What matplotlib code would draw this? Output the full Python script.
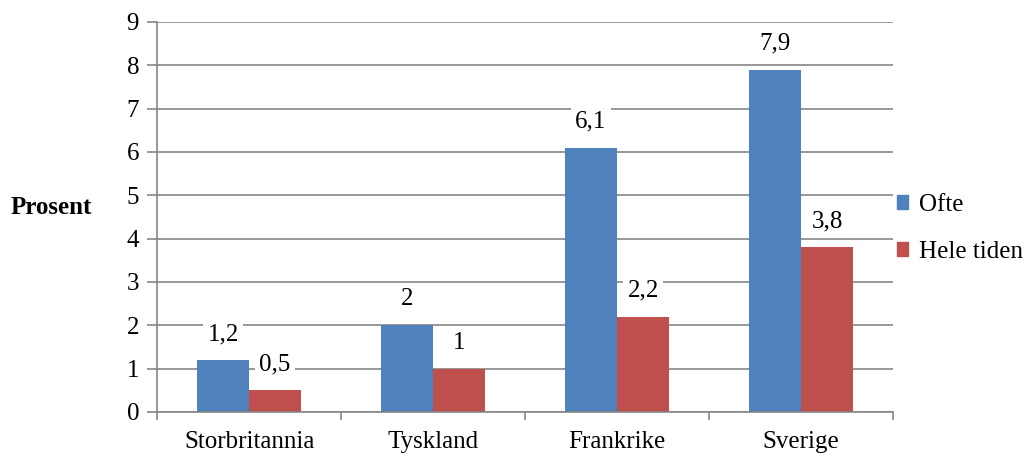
import numpy as np
import matplotlib
matplotlib.use('Agg')
import matplotlib.pyplot as plt
from matplotlib.patches import Patch

plt.rcParams['font.family'] = ['Liberation Serif', 'DejaVu Serif']

# data
countries = ['Storbritannia', 'Tyskland', 'Frankrike', 'Sverige']
ofte = [1.2, 2, 6.1, 7.9]
hele_tiden = [0.5, 1, 2.2, 3.8]
ofte_labels = ['1,2', '2', '6,1', '7,9']
hele_labels = ['0,5', '1', '2,2', '3,8']

blue = '#4F81BD'
red = '#C0504D'
grid_col = '#868686'
fs = 18

fig = plt.figure(figsize=(10.27, 4.57), dpi=100)
ax = fig.add_axes([0.153, 0.0985, 0.7165, 0.8535])

x = np.arange(len(countries))
w = 0.283
ax.bar(x - w / 2, ofte, w, color=blue, zorder=2)
ax.bar(x + w / 2, hele_tiden, w, color=red, zorder=2)

for xi, v, s in zip(x - w / 2, ofte, ofte_labels):
    ax.text(xi, v + 0.6, s, ha='center', va='center', fontsize=fs, zorder=3,
            bbox=dict(facecolor='white', edgecolor='none', pad=3))
for xi, v, s in zip(x + w / 2, hele_tiden, hele_labels):
    ax.text(xi, v + 0.6, s, ha='center', va='center', fontsize=fs, zorder=3,
            bbox=dict(facecolor='white', edgecolor='none', pad=3))

ax.set_xlim(-0.5, 3.5)
ax.set_ylim(0, 9)
ax.set_yticks(range(10))
ax.yaxis.grid(True, color=grid_col, linewidth=1.2, zorder=0)
ax.set_axisbelow(True)

ax.set_xticks(x)
ax.set_xticklabels(countries, fontsize=fs)
ax.set_xticks(np.arange(-0.5, 4, 1), minor=True)
ax.tick_params(axis='x', which='major', length=0, pad=14)
ax.tick_params(axis='x', which='minor', length=6, color=grid_col, width=1.2)
ax.tick_params(axis='y', length=7, color=grid_col, width=1.2, labelsize=fs, pad=6)

for side in ['top', 'right']:
    ax.spines[side].set_visible(False)
for side in ['left', 'bottom']:
    ax.spines[side].set_color(grid_col)
    ax.spines[side].set_linewidth(1.2)

fig.text(0.01, 0.547, 'Prosent', fontsize=fs, fontweight='bold', va='center', ha='left')

handles = [Patch(color=blue, label='Ofte'), Patch(color=red, label='Hele tiden')]
fig.legend(handles=handles, loc='center left', bbox_to_anchor=(0.873, 0.5),
           frameon=False, fontsize=fs, handlelength=0.45, handleheight=0.45,
           handletextpad=0.45, labelspacing=1.0, borderpad=0, borderaxespad=0)

plt.savefig('out.png', dpi=100)
